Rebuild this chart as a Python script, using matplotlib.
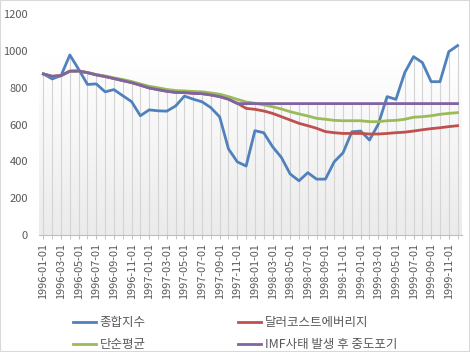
import numpy as np
import pandas as pd
import matplotlib
matplotlib.use("Agg")
import matplotlib.pyplot as plt
from matplotlib.patches import Rectangle

plt.rcParams['font.family'] = ['Noto Sans CJK KR', 'DejaVu Sans']

# monthly dates 1996-01 .. 1999-12
dates = pd.date_range('1996-01-01', periods=48, freq='MS').strftime('%Y-%m-%d').tolist()

kospi = [875, 848, 866, 978, 900, 818, 821, 778, 790, 757, 725, 648,
         680, 675, 673, 701, 755, 738, 724, 692, 642, 468, 398, 375,
         567, 556, 480, 422, 332, 295, 339, 304, 304, 398, 447, 561,
         565, 516, 602, 752, 737, 882, 969, 937, 833, 833, 996, 1029]
dca = [875, 862, 866, 890, 891, 882, 870, 861, 850, 839, 828, 814,
       799, 790, 781, 775, 774, 770, 768, 761, 752, 738, 716, 688,
       683, 674, 661, 643, 625, 607, 594, 580, 562, 556, 552, 552,
       552, 549, 549, 552, 556, 559, 565, 572, 578, 583, 589, 594]
simple_avg = [875, 862, 866, 890, 891, 883, 872, 864, 854, 845, 834, 821,
              808, 800, 791, 785, 783, 780, 778, 772, 765, 752, 737, 723,
              716, 707, 697, 685, 670, 658, 647, 634, 629, 623, 621, 621,
              621, 616, 616, 621, 623, 629, 640, 643, 648, 656, 661, 665]
imf_stop = [875, 862, 866, 890, 891, 882, 870, 861, 850, 839, 828, 814,
            799, 790, 781, 775, 774, 770, 768, 761, 752, 738, 714, 714,
            714, 714, 714, 714, 714, 714, 714, 714, 714, 714, 714, 714,
            714, 714, 714, 714, 714, 714, 714, 714, 714, 714, 714, 714]

labels = ['종합지수', '달러코스트에버리지', '단순평균', 'IMF사태 발생 후 중도포기']
colors = ['#4F81BD', '#C0504D', '#9BBB59', '#8064A2']

fig = plt.figure(figsize=(4.7, 3.52), dpi=100)
ax = fig.add_axes([0.083, 0.332, 0.9, 0.628])

x = np.arange(len(dates))
ax.set_xlim(-0.5, len(dates) - 0.5)
ax.set_ylim(0, 1200)

# plot area gradient (white -> light gray)
grad = np.linspace(1, 0, 256).reshape(-1, 1)
grad = np.clip(grad * 1.25, 0, 1)
ax.imshow(grad, extent=(-0.5, len(dates) - 0.5, 0, 1200), aspect='auto',
          cmap=matplotlib.colors.LinearSegmentedColormap.from_list('g', ['#ebebeb', '#ffffff']),
          zorder=0, origin='upper')

# drop lines
tops = np.max([kospi, dca, simple_avg, imf_stop], axis=0)
ax.vlines(x, 0, tops, color='#d4d4d4', lw=0.8, zorder=1)

lines = []
for ser, c, lab in zip([kospi, dca, simple_avg, imf_stop], colors, labels):
    l, = ax.plot(x, ser, color=c, lw=2.0, label=lab, zorder=3,
                 solid_joinstyle='round')
    lines.append(l)

for s in ['top', 'right', 'left']:
    ax.spines[s].set_visible(False)
ax.spines['bottom'].set_color('#bfbfbf')

ax.set_yticks(range(0, 1201, 200))
ax.tick_params(axis='y', length=0, labelsize=8, labelcolor='#595959', pad=8)
ax.set_xticks(x[::2])
ax.set_xticklabels(dates[::2], rotation=90)
ax.set_xticks(x, minor=True)
ax.tick_params(axis='x', which='both', length=3, color='#bfbfbf',
               labelsize=7.8, labelcolor='#595959', pad=3)

handles = [lines[0], lines[2], lines[1], lines[3]]
leg = fig.legend(handles, [h.get_label() for h in handles], ncol=2,
                 loc='center', bbox_to_anchor=(0.5, 0.052), frameon=False,
                 fontsize=9, handlelength=1.85, handletextpad=0.3,
                 columnspacing=7.4, labelspacing=0.75)
for t in leg.get_texts():
    t.set_color('#595959')

fig.patches.append(Rectangle((0, 0), 1, 1, transform=fig.transFigure,
                             fill=False, edgecolor='#d9d9d9', lw=1.5))

fig.savefig('out.png', dpi=100)
